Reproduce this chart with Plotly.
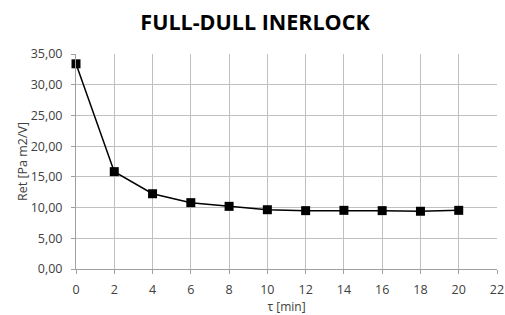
import plotly.graph_objects as go

tau = [0, 2, 4, 6, 8, 10, 12, 14, 16, 18, 20]
ret = [33.4, 15.85, 12.25, 10.8, 10.2, 9.65, 9.5, 9.55, 9.5, 9.4, 9.55]
title = "FULL-DULL INERLOCK"
x_label = "τ [min]"
y_label = "Ret [Pa m2/V]"

fig = go.Figure()
fig.add_trace(go.Scatter(
    x=tau, y=ret, mode="lines+markers",
    line=dict(color="black", width=1.5),
    marker=dict(symbol="square", size=9, color="black"),
    cliponaxis=False,
    showlegend=False,
))

fig.update_layout(
    width=505, height=315,
    margin=dict(l=76, r=8, t=54, b=46),
    paper_bgcolor="white", plot_bgcolor="white",
    font=dict(family="Open Sans, Liberation Sans, sans-serif", size=12, color="#404040"),
    title=dict(text="<b>" + title + "</b>", x=0.505, xanchor="center", y=0.93, yanchor="middle",
               font=dict(size=21.5, color="black", family="Open Sans, sans-serif")),
    separators=", ",
)
fig.update_xaxes(
    range=[0, 22], tickmode="linear", tick0=0, dtick=2,
    automargin=False,
    showgrid=True, gridcolor="#c0c0c0", gridwidth=1,
    showline=True, linecolor="#a0a0a0", ticks="outside", ticklen=4, tickcolor="#a0a0a0",
    ticklabelstandoff=5,
    zeroline=False,
    title=dict(text=x_label, standoff=6, font=dict(size=12, color="#404040")),
    tickfont=dict(size=12.5, color="#404040"),
)
fig.update_yaxes(
    range=[0, 35], tickmode="linear", tick0=0, dtick=5,
    tickformat=".2f",
    automargin=False,
    showgrid=True, gridcolor="#c0c0c0", gridwidth=1,
    showline=True, linecolor="#a0a0a0", ticks="outside", ticklen=4, tickcolor="#a0a0a0",
    ticklabelstandoff=6,
    zeroline=False,
    title=dict(text=y_label, standoff=0, font=dict(size=12.5, color="#404040")),
    tickfont=dict(size=12.5, color="#404040"),
)

fig.write_html(
    "out.html",
    config={"displayModeBar": False},
    post_script="document.body.style.margin='0';document.body.style.overflow='hidden';",
)
